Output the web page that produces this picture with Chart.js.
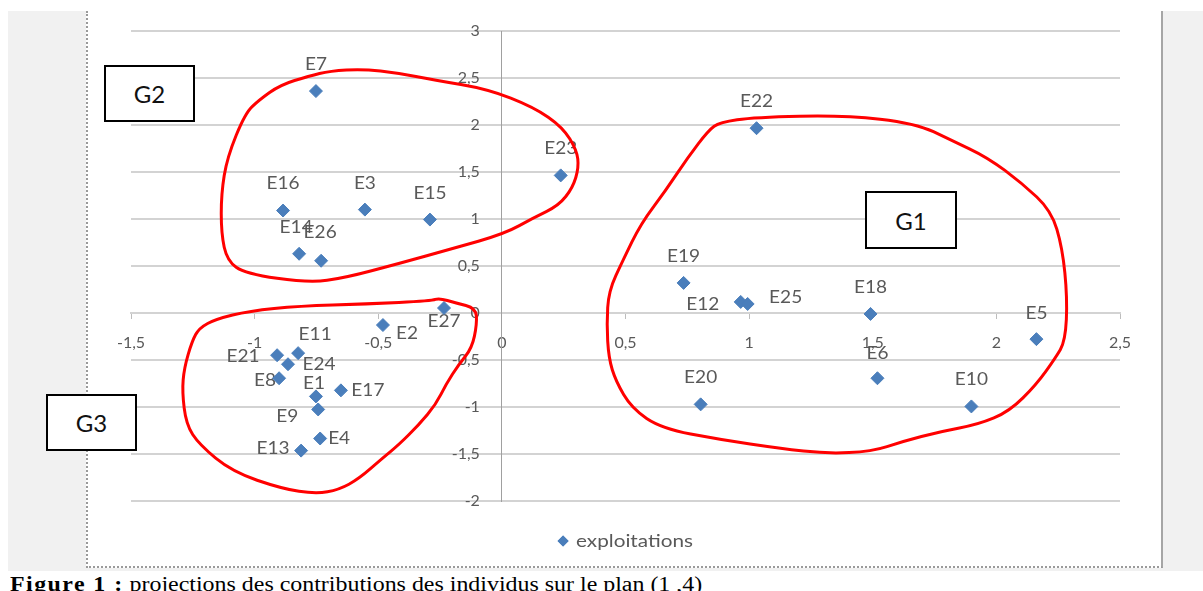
<!DOCTYPE html>
<html>
<head>
<meta charset="utf-8">
<script src="https://cdn.jsdelivr.net/npm/chart.js@4.4.1/dist/chart.umd.min.js"></script>
<style>
  html, body { margin: 0; padding: 0; background: #ffffff; }
  body { width: 1203px; height: 591px; position: relative; overflow: hidden; }
  #gray { position: absolute; left: 8px; top: 11px; width: 1195px; height: 560px; background: #f1f1f1; }
  #frame { position: absolute; left: 86px; top: 11px; width: 1073px; height: 555px; background: #ffffff;
           border-left: 2px dotted #9a9a9a; border-bottom: 2px dotted #9a9a9a; border-right: 2px solid #a6a6a6; }
  #holder { position: relative; width: 1073px; height: 555px; }
  .gbox { position: absolute; box-sizing: border-box; border: 2px solid #000; background: #fff;
          font-family: Lato, "Open Sans", sans-serif; font-size: 24px; color: #111;
          display: flex; align-items: center; justify-content: center; z-index: 5; }
  #caption { position: absolute; left: 10px; top: 574px; font-family: "Liberation Serif", "Times New Roman", serif;
             font-size: 20px; line-height: 20px; color: #000; white-space: nowrap; transform-origin: 0 0;
             transform: scaleX(1.196); z-index: 5; }
  #caption b { letter-spacing: 1.2px; }
</style>
</head>
<body>
<div id="gray"></div>
<div id="frame"><div id="holder"><canvas id="c"></canvas></div></div>
<div class="gbox" style="left:104px;top:65px;width:91px;height:57px;">G2</div>
<div class="gbox" style="left:865px;top:191px;width:92px;height:58px;">G1</div>
<div class="gbox" style="left:46px;top:394px;width:91px;height:57px;">G3</div>
<div id="caption"><b>Figure 1 :</b> projections des contributions des individus sur le plan (1 ,4)</div>
<script>
// ---- data ----
const pointNames = ['E1','E2','E3','E4','E5','E6','E7','E8','E9','E10','E11','E12','E13','E14',
                    'E15','E16','E17','E18','E19','E20','E21','E22','E23','E24','E25','E26','E27'];
const xValues = [-0.752,-0.481,-0.554,-0.735,2.162,1.519,-0.752,-0.901,-0.743,1.899,-0.824,0.966,-0.812,-0.820,
                 -0.291,-0.885,-0.651,1.491,0.735,0.804,-0.909,1.030,0.238,-0.865,0.994,-0.731,-0.234];
const yValues = [-0.887,-0.128,1.100,-1.335,-0.278,-0.694,2.361,-0.694,-1.026,-0.994,-0.427,0.118,-1.464,0.630,
                 0.994,1.090,-0.823,-0.010,0.320,-0.972,-0.449,1.966,1.464,-0.545,0.096,0.556,0.053];
const seriesName = 'exploitations';
const xTicks = { min: -1.5, max: 2.5, step: 0.5 };
const yTicks = { min: -2, max: 3, step: 0.5 };

// ---- label placement (style: pixel offsets of label centre from its marker) ----
const labelOffsets = {
  E1:[-2,-13], E2:[24,8], E3:[0,-26], E4:[19,0], E5:[0,-26], E6:[0,-25], E7:[0,-27], E8:[-14,2],
  E9:[-31,7], E10:[0,-27], E11:[17,-19], E12:[-38,3], E13:[-28,-2], E14:[-3,-26], E15:[0,-26],
  E16:[0,-27], E17:[27,0], E18:[0,-26], E19:[0,-26], E20:[0,-27], E21:[-34,1], E22:[0,-27],
  E23:[0,-27], E24:[31,0], E25:[38,-6], E26:[-1,-28], E27:[0,13]
};

// ---- hand-drawn group outlines (annotation, in data units) ----
const loopG2 = [[-0.897,2.425],[-0.780,2.521],[-0.695,2.575],[-0.562,2.596],[-0.420,2.553],[-0.275,2.479],
  [-0.057,2.382],[0.129,2.190],[0.246,1.976],[0.303,1.731],[0.311,1.549],[0.287,1.335],[0.230,1.143],
  [0.129,1.015],[0.012,0.844],[-0.202,0.684],[-0.420,0.524],[-0.634,0.374],[-0.780,0.321],[-1.038,0.417],
  [-1.111,0.556],[-1.135,0.844],[-1.135,1.271],[-1.111,1.656],[-1.038,2.126],[-0.982,2.265]];
const loopG1 = [[0.881,2.030],[1.022,2.083],[1.386,2.105],[1.673,2.019],[1.818,1.838],[1.964,1.656],
  [2.105,1.378],[2.222,1.090],[2.267,0.694],[2.287,0.160],[2.279,-0.299],[2.238,-0.481],[2.162,-0.759],
  [2.053,-1.047],[1.927,-1.186],[1.774,-1.261],[1.620,-1.368],[1.495,-1.474],[1.313,-1.496],[1.127,-1.442],
  [0.881,-1.346],[0.646,-1.229],[0.525,-1.015],[0.461,-0.726],[0.432,-0.481],[0.424,-0.118],[0.432,0.235],
  [0.489,0.556],[0.562,0.951],[0.663,1.303],[0.752,1.656],[0.836,1.944]];
const loopG3 = [[-1.224,-0.160],[-1.156,-0.064],[-1.022,0.021],[-0.820,0.075],[-0.549,0.096],[-0.283,0.128],
  [-0.255,0.160],[-0.186,0.107],[-0.105,0.053],[-0.101,-0.118],[-0.121,-0.374],[-0.174,-0.545],[-0.226,-0.759],
  [-0.267,-0.972],[-0.335,-1.186],[-0.416,-1.400],[-0.485,-1.549],[-0.578,-1.763],[-0.659,-1.880],
  [-0.752,-1.923],[-0.889,-1.870],[-1.091,-1.688],[-1.224,-1.400],[-1.277,-1.186],[-1.293,-0.833],
  [-1.285,-0.588],[-1.253,-0.299]];

const pointColor = '#4a7ebb';
const textColor = '#595959';
const fontFamily = 'Lato, "Open Sans", sans-serif';
const textStretch = 1.12;
const fmt = v => String(Math.round(v * 100) / 100).replace('.', ',');

const scatterData = pointNames.map((n, i) => ({ x: xValues[i], y: yValues[i], name: n }));

function stretchedText(ctx, text, x, y) {
  ctx.save();
  ctx.translate(x, y);
  ctx.scale(textStretch, 1);
  ctx.fillText(text, 0, 0);
  ctx.restore();
}

const labelPlugin = {
  id: 'pointLabels',
  beforeDatasetsDraw(chart) {
    const ctx = chart.ctx;
    const meta = chart.getDatasetMeta(0);
    const ys = chart.scales.y, xs = chart.scales.x;
    ctx.save();
    // y tick labels, to the left of the vertical axis
    ctx.font = '16px ' + fontFamily;
    ctx.fillStyle = textColor;
    ctx.textAlign = 'right';
    ctx.textBaseline = 'middle';
    const axisX = xs.getPixelForValue(0);
    ys.ticks.forEach(t => {
      ctx.fillText(fmt(t.value), axisX - 22, ys.getPixelForValue(t.value));
    });
    // point labels
    ctx.font = '17px ' + fontFamily;
    ctx.textAlign = 'center';
    meta.data.forEach((el, i) => {
      const name = chart.data.datasets[0].data[i].name;
      const off = labelOffsets[name] || [0, -26];
      stretchedText(ctx, name, el.x + off[0], el.y + off[1]);
    });
    ctx.restore();
  }
};

function traceLoop(ctx, pts) {
  const n = pts.length;
  const mid = (a, b) => [(a[0] + b[0]) / 2, (a[1] + b[1]) / 2];
  const m0 = mid(pts[n - 1], pts[0]);
  ctx.moveTo(m0[0], m0[1]);
  for (let i = 0; i < n; i++) {
    const p = pts[i], q = pts[(i + 1) % n];
    const m = mid(p, q);
    ctx.quadraticCurveTo(p[0], p[1], m[0], m[1]);
  }
  ctx.closePath();
}

const overlayPlugin = {
  id: 'overlay',
  afterDraw(chart) {
    const ctx = chart.ctx;
    const xs = chart.scales.x, ys = chart.scales.y;
    ctx.save();
    ctx.strokeStyle = '#ff0000';
    ctx.lineWidth = 3;
    ctx.lineJoin = 'round';
    [loopG1, loopG2, loopG3].forEach(loop => {
      const px = loop.map(p => [xs.getPixelForValue(p[0]), ys.getPixelForValue(p[1])]);
      ctx.beginPath();
      traceLoop(ctx, px);
      ctx.stroke();
    });
    // legend
    ctx.font = '18px ' + fontFamily;
    const label = chart.data.datasets[0].label;
    const tw = ctx.measureText(label).width * 1.15;
    const total = 10 + 8 + tw;
    const cx = (chart.chartArea.left + chart.chartArea.right) / 2;
    const x0 = cx - total / 2;
    const y0 = chart.chartArea.bottom + 40;
    ctx.fillStyle = pointColor;
    ctx.beginPath();
    Chart.helpers.drawPoint(ctx, { pointStyle: 'rectRot', radius: 5.5, rotation: 0, borderWidth: 0 }, x0 + 5, y0);
    ctx.fill();
    ctx.fillStyle = textColor;
    ctx.textAlign = 'left';
    ctx.textBaseline = 'middle';
    ctx.translate(x0 + 18, y0);
    ctx.scale(1.15, 1);
    ctx.fillText(label, 0, 0);
    ctx.restore();
  }
};

new Chart(document.getElementById('c'), {
  type: 'scatter',
  data: {
    datasets: [{
      label: seriesName,
      data: scatterData,
      pointStyle: 'rectRot',
      pointRadius: 6.5,
      pointHoverRadius: 6.5,
      backgroundColor: pointColor,
      borderColor: pointColor,
      borderWidth: 1
    }]
  },
  options: {
    responsive: true,
    maintainAspectRatio: false,
    animation: false,
    events: [],
    layout: { padding: { left: 43, right: 41, top: 20, bottom: 65 } },
    plugins: { legend: { display: false }, tooltip: { enabled: false } },
    scales: {
      x: {
        type: 'linear',
        position: { y: 0 },
        min: xTicks.min, max: xTicks.max,
        ticks: { stepSize: xTicks.step, callback: v => fmt(v), color: textColor,
                 font: { family: fontFamily, size: 16 }, padding: 15, maxRotation: 0, autoSkip: false },
        grid: { drawOnChartArea: false, drawTicks: true, tickLength: 5, tickColor: '#bdbdbd', tickWidth: 1 },
        border: { display: true, color: '#d3d3d3', width: 2 }
      },
      y: {
        type: 'linear',
        position: { x: 0 },
        min: yTicks.min, max: yTicks.max,
        ticks: { display: false, stepSize: yTicks.step, autoSkip: false },
        grid: { color: '#d3d3d3', lineWidth: 2, drawTicks: false },
        border: { display: true, color: '#a0a0a0', width: 1 }
      }
    }
  },
  plugins: [labelPlugin, overlayPlugin]
});
</script>
</body>
</html>
